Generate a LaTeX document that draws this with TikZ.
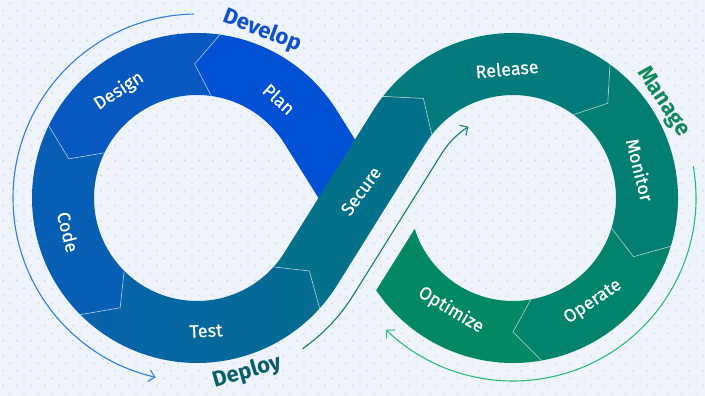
\documentclass[tikz,border=0pt]{standalone}
\usepackage{fontspec}
\setmainfont{Fira Sans}
\newfontface\lblface[FakeBold=0.7]{Fira Sans}
\usetikzlibrary{calc,arrows.meta}
\definecolor{paper}{HTML}{EEF3FC}
\definecolor{dotc}{HTML}{CBD4EE}
\definecolor{plancol}{HTML}{0251D4}
\definecolor{designcol}{HTML}{0858C1}
\definecolor{codecol}{HTML}{075EB5}
\definecolor{testleft}{HTML}{0762AC}
\definecolor{testright}{HTML}{046D90}
\definecolor{securecol}{HTML}{03718A}
\definecolor{releasecol}{HTML}{037A7C}
\definecolor{monitorcol}{HTML}{027F72}
\definecolor{operatecol}{HTML}{01846B}
\definecolor{optimizecol}{HTML}{028862}
\definecolor{devblue}{HTML}{0F50CF}
\definecolor{devline}{HTML}{2F7FE6}
\definecolor{deployteal}{HTML}{0A5E6C}
\definecolor{deployline}{HTML}{167A80}
\definecolor{managegreen}{HTML}{11885C}
\definecolor{manageline}{HTML}{2EBB78}

\begin{document}
\begin{tikzpicture}[x=1pt,y=1pt,
  sep/.style={draw=white,draw opacity=0.55,line width=0.7pt},
  lbl/.style={text=white,inner sep=0pt,font=\lblface\fontsize{18}{20}\selectfont},
  phase/.style={inner sep=0pt,font=\bfseries\fontsize{22}{25}\selectfont},
  flow/.style={line width=1.1pt,-{Straight Barb[length=6pt,width=12pt]}}]
% Background with staggered dots
\useasboundingbox (0,0) rectangle (705,396);
\fill[paper] (0,0) rectangle (705,396);
\foreach \j in {0,...,26}
  \foreach \i in {0,...,50} {
    \fill[dotc] (10+14*\i,392.7-15*\j) circle (0.8);
    \fill[dotc] (3+14*\i,385.2-15*\j) circle (0.8);
  }
% Centres of the two loops and the crossing point
\coordinate (L) at (197,198);
\coordinate (R) at (513,198);
\coordinate (M) at (355,198);
% Plan: from under the crossing up to the top of the left loop
\fill[plancol] ($(M)+(32:31)$) -- ($(L)+(32:165)$)
  arc[start angle=32,end angle=82,radius=165pt] -- ($(L)+(91:134)$) -- ($(L)+(82:103)$)
  arc[start angle=82,end angle=32,radius=103pt] -- ($(M)+(212:31)$) -- cycle;
% Design
\fill[designcol] ($(L)+(82:165)$)
  arc[start angle=82,end angle=154,radius=165pt] -- ($(L)+(163:134)$) -- ($(L)+(154:103)$)
  arc[start angle=154,end angle=82,radius=103pt] -- ($(L)+(91:134)$) -- cycle;
% Code
\fill[codecol] ($(L)+(154:165)$)
  arc[start angle=154,end angle=225,radius=165pt] -- ($(L)+(235:134)$) -- ($(L)+(225:103)$)
  arc[start angle=225,end angle=154,radius=103pt] -- ($(L)+(163:134)$) -- cycle;
% Test
\shade[left color=testleft,right color=testright] ($(L)+(225:165)$)
  arc[start angle=225,end angle=318,radius=165pt] -- ($(L)+(327:134)$) -- ($(L)+(318:103)$)
  arc[start angle=318,end angle=225,radius=103pt] -- ($(L)+(235:134)$) -- cycle;
% Secure: crosses over Plan into the right loop
\fill[securecol] ($(L)+(318:165)$)
  arc[start angle=318,end angle=328,radius=165pt] -- ($(R)+(148:103)$)
  arc[start angle=148,end angle=142,radius=103pt] -- ($(R)+(132:134)$) -- ($(R)+(142:165)$)
  arc[start angle=142,end angle=148,radius=165pt] -- ($(L)+(328:103)$)
  arc[start angle=328,end angle=318,radius=103pt] -- ($(L)+(327:134)$) -- cycle;
% Release
\fill[releasecol] ($(R)+(142:165)$)
  arc[start angle=142,end angle=54,radius=165pt] -- ($(R)+(45:134)$) -- ($(R)+(54:103)$)
  arc[start angle=54,end angle=142,radius=103pt] -- ($(R)+(132:134)$) -- cycle;
% Monitor
\fill[monitorcol] ($(R)+(54:165)$)
  arc[start angle=54,end angle=-17,radius=165pt] -- ($(R)+(-26:134)$) -- ($(R)+(-17:103)$)
  arc[start angle=-17,end angle=54,radius=103pt] -- ($(R)+(45:134)$) -- cycle;
% Operate
\fill[operatecol] ($(R)+(-17:165)$)
  arc[start angle=-17,end angle=-80,radius=165pt] -- ($(R)+(-90:134)$) -- ($(R)+(-80:103)$)
  arc[start angle=-80,end angle=-17,radius=103pt] -- ($(R)+(-26:134)$) -- cycle;
% Optimize: cut off parallel to Secure, short of the crossing
\fill[optimizecol] ($(R)+(-80:165)$)
  arc[start angle=-80,end angle=-146,radius=165pt] -- ($(R)+(-162.6:103)$)
  arc[start angle=-162.6,end angle=-80,radius=103pt] -- ($(R)+(-90:134)$) -- cycle;
% Chevron separators between the stages
\foreach \ctr/\a/\t in {L/82/91,L/154/163,L/225/235,L/318/327,R/142/132,R/54/45,R/-17/-26,R/-80/-90}
  \draw[sep] ($(\ctr)+(\a:165)$) -- ($(\ctr)+(\t:134)$) -- ($(\ctr)+(\a:103)$);
% Stage labels
\node[lbl,rotate=-42] (plan) at (279,297) {Plan};
\node[lbl,rotate=33] (design) at (119,305) {Design};
\node[lbl,rotate=-76] (code) at (68,164) {Code};
\node[lbl,rotate=3] (test) at (206,65) {Test};
\node[lbl,rotate=54] (secure) at (361,205) {Secure};
\node[lbl,rotate=5] (release) at (507,327) {Release};
\node[lbl,rotate=-76] (monitor) at (640,226) {Monitor};
\node[lbl,rotate=34] (operate) at (593,94) {Operate};
\node[lbl,rotate=-31] (optimize) at (451,86) {Optimize};
% Flow arrows round the loops
\draw[flow,devline] ($(L)+(91:184)$) arc[start angle=91,end angle=257,radius=184pt];
\draw[flow,deployline] ($(L)+(305:184)$) arc[start angle=305,end angle=328,radius=184pt]
  -- ($(R)+(148:84)$) arc[start angle=148,end angle=122,radius=84pt];
\draw[flow,manageline] ($(R)+(10:183)$) arc[start angle=10,end angle=-134,radius=183pt];
% Phase names
\node[phase,text=devblue,rotate=-21] (develop) at (262,365) {Develop};
\node[phase,text=deployteal,rotate=16] (deploy) at (247,24) {Deploy};
\node[phase,text=managegreen,rotate=-57] (manage) at (663,294) {Manage};
\end{tikzpicture}
\end{document}
